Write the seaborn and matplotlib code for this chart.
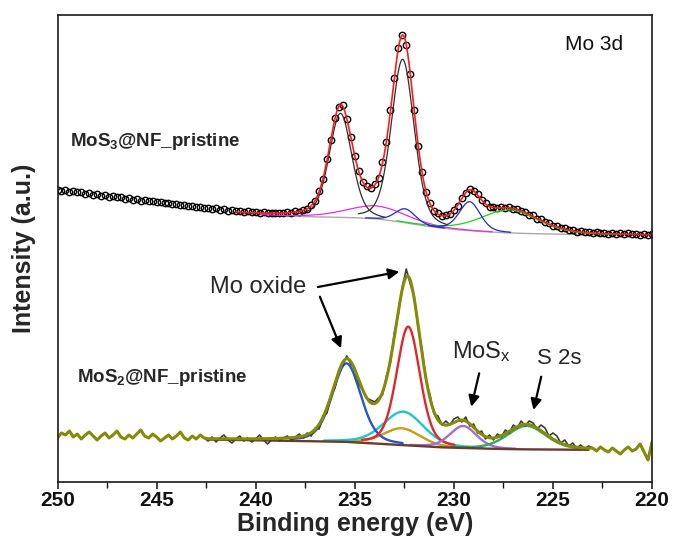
import numpy as np
import matplotlib
matplotlib.use("Agg")
import matplotlib.pyplot as plt
import seaborn as sns

# ---------------------------------------------------------------------------
# Mo 3d XPS scans, 250.0 eV down to 220.0 eV in 0.2 eV steps (a.u., offset)
# ---------------------------------------------------------------------------
scan_start = 250.0
scan_step = 0.2

# MoS3@NF_pristine, measured counts
mos3_counts = [
    292.5, 291.0, 292.2, 290.4, 290.9, 289.6, 290.3, 288.5, 288.9, 287.4,
    288.0, 286.3, 286.9, 285.2, 285.8, 284.6, 284.9, 283.3, 284.0, 282.5,
    282.9, 281.4, 282.1, 280.6, 281.0, 279.7, 280.3, 278.6, 279.1, 277.9,
    278.2, 276.6, 277.3, 275.8, 276.2, 275.0, 275.4, 274.0, 274.5, 273.1,
    273.6, 272.4, 272.8, 271.5, 272.0, 270.9, 271.3, 270.2, 270.7, 269.6,
    270.1, 269.2, 269.8, 268.9, 269.5, 268.8, 269.3,
    268.7, 269.8, 269.3, 270.6, 270.4, 272.2, 272.9, 276.8, 281.0, 290.9,
    303.0, 322.8, 342.5, 363.6, 375.0, 377.2, 362.6, 345.3, 325.7, 311.5,
    300.1, 296.0, 293.6, 297.8, 303.8, 319.6, 340.4, 371.8, 404.1, 434.2,
    446.6, 437.5, 407.8, 372.5, 336.2, 310.0, 289.6, 278.9, 270.9, 268.6,
    266.1, 267.1, 267.6, 272.1, 276.4, 284.2, 288.7, 293.0, 290.8, 288.0,
    281.8, 279.0, 275.2, 275.1, 273.8, 275.3, 274.0, 275.0, 273.2, 273.4,
    270.9, 270.3, 267.4, 266.6, 263.5, 262.8, 259.9, 259.1, 256.4, 256.0,
    253.7, 253.8, 251.9, 252.2, 250.5, 251.1, 249.6, 250.3, 249.0, 249.7,
    248.6, 249.4, 248.3, 249.1, 248.0, 248.8, 247.8, 248.6, 247.6, 248.4,
    247.4, 248.2, 247.2, 248.0,
]

# MoS2@NF_pristine, measured counts
mos2_counts = [
    44, 49, 47, 51, 45, 48, 43, 47, 50, 46,
    42, 46, 49, 44, 47, 51, 45, 43, 47, 44,
    48, 52, 46, 44, 48, 45, 41, 44, 47, 43,
    46, 50, 44, 42, 46, 43, 47, 44,
    41, 45, 40, 44, 47, 42, 39, 43, 46, 41,
    44, 40, 43, 47, 42, 38, 42, 45, 41, 44,
    46, 42, 45, 48, 44, 49, 46, 54, 53, 65,
    69, 86, 94, 112, 117, 126, 118, 114, 98, 92,
    84, 82, 80, 84, 87, 106, 119, 149, 168, 195,
    213, 198, 186, 154, 132, 101, 87, 68, 66, 57,
    61, 57, 63, 65, 60, 65, 56, 58, 49, 51,
    43, 47, 42, 48, 45, 52, 49, 57, 54, 61,
    56, 61, 59, 53, 57, 54, 46, 49, 46, 39,
    42, 36, 39, 34, 37, 33, 36,
    34, 31, 35, 32, 30, 34, 31, 28, 32, 35, 31, 33, 38, 30, 22, 40,
]

# Peak-fit results: centre (eV), height above background (a.u.), FWHM (eV)
mos3_centers = [235.72, 232.58, 233.90, 232.45, 229.20, 227.20]
mos3_heights = [104.0, 163.0, 13.0, 14.0, 29.0, 23.0]
mos3_fwhm = [1.35, 1.35, 3.5, 1.2, 1.25, 3.4]
mos3_bg_energy = [241.0, 240.0, 239.0, 238.6, 238.0, 237.0, 236.0, 235.0, 234.0,
                  233.0, 232.0, 231.0, 230.0, 229.0, 228.0, 227.0, 226.0, 224.0,
                  222.0, 220.0]
mos3_bg_level = [268.6, 267.5, 266.4, 266.0, 265.6, 265.2, 264.8, 264.3, 263.3,
                 261.0, 257.7, 254.8, 252.6, 251.0, 249.8, 248.9, 248.3, 247.6,
                 247.0, 246.6]

mos2_centers = [235.41, 232.30, 232.55, 232.63, 229.53, 226.33]
mos2_heights = [78.5, 118.7, 33.4, 16.7, 22.0, 23.5]
mos2_fwhm = [1.7, 1.4, 2.4, 2.2, 1.6, 2.3]
mos2_bg_energy = [242.4, 239.0, 235.6, 232.6, 230.7, 228.5, 226.8, 223.2]
mos2_bg_level = [42.5, 41.3, 40.3, 37.0, 34.7, 33.4, 32.7, 32.2]

tick_values = [250, 245, 240, 235, 230, 225, 220]

# line colours of the fitted components
mos3_colors = ["#2e2e2e", "#2e2e2e", "#e22ee2", "#2626cf", "#2626cf", "#1fd01f"]
mos2_colors = ["#2457c9", "#e2262a", "#1fc6c8", "#c99a1c", "#a46ed8", "#2fa865"]

LOR_FRACTION = 0.3


def pseudo_voigt(e, center, height, fwhm):
    d2 = ((e - center) / fwhm) ** 2
    return height * ((1 - LOR_FRACTION) * np.exp(-4 * np.log(2) * d2)
                     + LOR_FRACTION / (1 + 4 * d2))


def fit_curves(bg_energy, bg_level, centers, heights, widths):
    grid = np.linspace(bg_energy[0], bg_energy[-1], 1200)
    bg = np.interp(grid, bg_energy[::-1], bg_level[::-1])
    comps = [pseudo_voigt(grid, c, h, w) for c, h, w in zip(centers, heights, widths)]
    envelope = bg + np.sum(comps, axis=0)
    return grid, bg, comps, envelope


def line(ax, x, y, **kw):
    sns.lineplot(x=x, y=y, ax=ax, sort=False, estimator=None, errorbar=None,
                 legend=False, **kw)


sns.set_style("white")
plt.rcParams["font.family"] = ["Liberation Sans", "DejaVu Sans"]
plt.rcParams["mathtext.fontset"] = "custom"
plt.rcParams["mathtext.rm"] = "Liberation Sans"
plt.rcParams["mathtext.bf"] = "Liberation Sans:bold"
plt.rcParams["mathtext.it"] = "Liberation Sans:italic"

fig = plt.figure(figsize=(6.73, 5.47), dpi=100)
ax = fig.add_axes([57.5 / 673, 65 / 547, 594.5 / 673, 467 / 547])

energy = scan_start - scan_step * np.arange(len(mos3_counts))
mos3 = np.asarray(mos3_counts, dtype=float)
mos2 = np.asarray(mos2_counts, dtype=float)

# ---- upper trace: MoS3@NF_pristine ----
g3, bg3, comps3, env3 = fit_curves(mos3_bg_energy, mos3_bg_level,
                                   mos3_centers, mos3_heights, mos3_fwhm)
line(ax, g3, bg3, color="#a9a9a9", linewidth=1.0)
line(ax, energy, mos3, color="black", linestyle="", marker="o",
     markersize=4.6, markerfacecolor="none", markeredgecolor="black",
     markeredgewidth=1.0)
order3 = [2, 5, 3, 4, 0, 1]
for i in order3:
    keep = comps3[i] > 0.025 * mos3_heights[i]
    line(ax, g3[keep], (bg3 + comps3[i])[keep], color=mos3_colors[i], linewidth=0.9)
line(ax, g3, env3, color="#ff1a1a", linewidth=1.2)

# ---- lower trace: MoS2@NF_pristine ----
g2, bg2, comps2, env2 = fit_curves(mos2_bg_energy, mos2_bg_level,
                                   mos2_centers, mos2_heights, mos2_fwhm)
for i in [3, 2, 0, 1, 4, 5]:
    keep = comps2[i] > 0.025 * mos2_heights[i]
    line(ax, g2[keep], (bg2 + comps2[i])[keep], color=mos2_colors[i], linewidth=1.7)
line(ax, g2, bg2, color="#6a3b2e", linewidth=1.7)
line(ax, energy, mos2, color="#3b3b3b", linewidth=1.2)

left = energy > mos2_bg_energy[0] + 1e-6
right = energy < mos2_bg_energy[-1] - 1e-6
olive_x = np.concatenate([energy[left], g2, energy[right]])
olive_y = np.concatenate([mos2[left], env2, mos2[right]])
line(ax, olive_x, olive_y, color="#858a07", linewidth=2.2)

# ---- axes ----
ax.set_xlim(250, 220)
ax.set_ylim(0, 467)
ax.set_yticks([])
ax.set_xticks(tick_values)
ax.set_xticklabels([str(t) for t in tick_values], fontweight="bold", fontsize=15)
ax.set_xticks(np.arange(247.5, 220, -5), minor=True)
ax.tick_params(axis="x", which="major", direction="out", length=5, width=1.1,
               pad=1.5, bottom=True, top=False, colors="#111111")
ax.tick_params(axis="x", which="minor", direction="out", length=4, width=1.0,
               bottom=True, top=False, colors="#111111")
for sp in ax.spines.values():
    sp.set_color("#1a1a1a")
    sp.set_linewidth(1.2)

ax.set_xlabel("Binding energy (eV)", fontsize=18, fontweight="bold")
ax.set_ylabel("Intensity (a.u.)", fontsize=18, fontweight="bold")
ax.xaxis.set_label_coords(0.5, -0.064)
ax.yaxis.set_label_coords(-0.037, 0.5)

# ---- annotations ----
ax.text(224.4, 437, "Mo 3d", fontsize=15, ha="left", va="center", color="#111111")
ax.text(249.37, 340, r"MoS$_\mathbf{3}$@NF_pristine", fontsize=13.5,
        fontweight="bold", ha="left", va="center")
ax.text(249.0, 105, r"MoS$_\mathbf{2}$@NF_pristine", fontsize=13.5,
        fontweight="bold", ha="left", va="center")
ax.text(242.3, 195, "Mo oxide", fontsize=17, ha="left", va="center")
ax.text(230.1, 130, r"MoS$_{\mathrm{x}}$", fontsize=17, ha="left", va="center")
ax.text(225.8, 123, "S 2s", fontsize=16, ha="left", va="center")

arrow = dict(arrowstyle="-|>", color="black", lw=1.6, mutation_scale=16,
             shrinkA=0, shrinkB=0)
ax.annotate("", xy=(232.75, 210.3), xytext=(236.86, 195), arrowprops=arrow)
ax.annotate("", xy=(235.69, 133.7), xytext=(236.76, 185.3), arrowprops=arrow)
ax.annotate("", xy=(229.12, 75.3), xytext=(228.72, 108.7), arrowprops=arrow)
ax.annotate("", xy=(225.98, 72.0), xytext=(225.59, 105.3), arrowprops=arrow)

fig.savefig("out.png", dpi=100)
